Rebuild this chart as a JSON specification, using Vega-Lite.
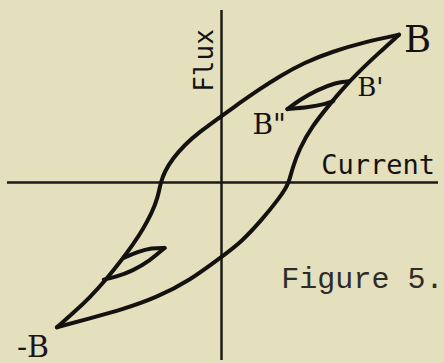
{
  "$schema": "https://vega.github.io/schema/vega-lite/v6.json",
  "width": 444,
  "height": 363,
  "autosize": {"type": "fit", "contains": "padding"},
  "padding": 0,
  "background": "#e4dfbd",
  "config": {"view": {"stroke": null}},
  "datasets": {
    "curves": [
      {"s": "top", "i": 0, "x": 178, "y": 149},
      {"s": "top", "i": 1, "x": 145, "y": 142},
      {"s": "top", "i": 2, "x": 111, "y": 132},
      {"s": "top", "i": 3, "x": 83, "y": 121},
      {"s": "top", "i": 4, "x": 58, "y": 107},
      {"s": "top", "i": 5, "x": 38, "y": 94},
      {"s": "top", "i": 6, "x": 18, "y": 80},
      {"s": "top", "i": 7, "x": 0, "y": 67},
      {"s": "top", "i": 8, "x": -22, "y": 51},
      {"s": "top", "i": 9, "x": -37, "y": 38},
      {"s": "top", "i": 10, "x": -49, "y": 24},
      {"s": "top", "i": 11, "x": -57, "y": 11},
      {"s": "top", "i": 12, "x": -61, "y": 0},
      {"s": "top", "i": 13, "x": -64, "y": -16},
      {"s": "top", "i": 14, "x": -70, "y": -31},
      {"s": "top", "i": 15, "x": -78, "y": -46},
      {"s": "top", "i": 16, "x": -89, "y": -63},
      {"s": "top", "i": 17, "x": -100, "y": -78},
      {"s": "top", "i": 18, "x": -115, "y": -97},
      {"s": "top", "i": 19, "x": -132, "y": -116},
      {"s": "top", "i": 20, "x": -149, "y": -132},
      {"s": "top", "i": 21, "x": -165, "y": -146},
      {"s": "bottom", "i": 0, "x": -165, "y": -146},
      {"s": "bottom", "i": 1, "x": -132, "y": -137},
      {"s": "bottom", "i": 2, "x": -99, "y": -128},
      {"s": "bottom", "i": 3, "x": -65, "y": -116},
      {"s": "bottom", "i": 4, "x": -32, "y": -99},
      {"s": "bottom", "i": 5, "x": 0, "y": -75},
      {"s": "bottom", "i": 6, "x": 20, "y": -60},
      {"s": "bottom", "i": 7, "x": 41, "y": -37},
      {"s": "bottom", "i": 8, "x": 57, "y": -17},
      {"s": "bottom", "i": 9, "x": 65, "y": -5},
      {"s": "bottom", "i": 10, "x": 68, "y": 2},
      {"s": "bottom", "i": 11, "x": 71, "y": 14},
      {"s": "bottom", "i": 12, "x": 78, "y": 34},
      {"s": "bottom", "i": 13, "x": 91, "y": 57},
      {"s": "bottom", "i": 14, "x": 107, "y": 77},
      {"s": "bottom", "i": 15, "x": 121, "y": 94},
      {"s": "bottom", "i": 16, "x": 138, "y": 112},
      {"s": "bottom", "i": 17, "x": 157, "y": 130},
      {"s": "bottom", "i": 18, "x": 178, "y": 149},
      {"s": "m1a", "i": 0, "x": 128, "y": 102},
      {"s": "m1a", "i": 1, "x": 115, "y": 101},
      {"s": "m1a", "i": 2, "x": 95, "y": 93},
      {"s": "m1a", "i": 3, "x": 78, "y": 83},
      {"s": "m1a", "i": 4, "x": 66, "y": 74},
      {"s": "m1b", "i": 0, "x": 66, "y": 74},
      {"s": "m1b", "i": 1, "x": 88, "y": 76},
      {"s": "m1b", "i": 2, "x": 104, "y": 79},
      {"s": "m1b", "i": 3, "x": 112, "y": 82},
      {"s": "m2a", "i": 0, "x": -98, "y": -76},
      {"s": "m2a", "i": 1, "x": -84, "y": -70},
      {"s": "m2a", "i": 2, "x": -70, "y": -66},
      {"s": "m2a", "i": 3, "x": -57, "y": -66},
      {"s": "m2b", "i": 0, "x": -57, "y": -66},
      {"s": "m2b", "i": 1, "x": -72, "y": -79},
      {"s": "m2b", "i": 2, "x": -89, "y": -89},
      {"s": "m2b", "i": 3, "x": -105, "y": -95},
      {"s": "m2b", "i": 4, "x": -118, "y": -98}
    ],
    "axes": [
      {"x": -215, "x2": 217, "y": 0, "y2": 0},
      {"x": 0, "x2": 0, "y": 174, "y2": -179}
    ]
  },
  "encoding": {
    "x": {"field": "x", "type": "quantitative", "scale": {"domain": [-222, 222], "nice": false, "zero": false}, "axis": null},
    "y": {"field": "y", "type": "quantitative", "scale": {"domain": [-179, 184], "nice": false, "zero": false}, "axis": null}
  },
  "layer": [
    {
      "data": {"name": "axes"},
      "mark": {"type": "rule", "color": "#1c1a16", "strokeWidth": 2.5},
      "encoding": {"x2": {"field": "x2"}, "y2": {"field": "y2"}}
    },
    {
      "data": {"name": "curves"},
      "mark": {"type": "line", "color": "#141210", "strokeWidth": 4, "interpolate": "basis", "strokeCap": "round", "strokeJoin": "round"},
      "encoding": {"detail": {"field": "s"}, "order": {"field": "i", "type": "quantitative"}}
    },
    {
      "data": {"values": [{"x": 183, "y": 132, "t": "B"}]},
      "mark": {"type": "text", "font": "DejaVu Serif", "fontSize": 37, "align": "left", "baseline": "alphabetic", "color": "#141210"},
      "encoding": {"text": {"field": "t"}}
    },
    {
      "data": {"values": [{"x": 136, "y": 87, "t": "B'"}]},
      "mark": {"type": "text", "font": "DejaVu Serif", "fontSize": 26, "align": "left", "baseline": "alphabetic", "color": "#141210"},
      "encoding": {"text": {"field": "t"}}
    },
    {
      "data": {"values": [{"x": 31, "y": 49, "t": "B\""}]},
      "mark": {"type": "text", "font": "DejaVu Serif", "fontSize": 28, "align": "left", "baseline": "alphabetic", "color": "#141210"},
      "encoding": {"text": {"field": "t"}}
    },
    {
      "data": {"values": [{"x": -205, "y": -176, "t": "-B"}]},
      "mark": {"type": "text", "font": "DejaVu Serif", "fontSize": 30, "align": "left", "baseline": "alphabetic", "color": "#1e1418"},
      "encoding": {"text": {"field": "t"}}
    },
    {
      "data": {"values": [{"x": 100, "y": 9, "t": "Current"}]},
      "mark": {"type": "text", "font": "DejaVu Sans Mono", "fontSize": 27, "align": "left", "baseline": "alphabetic", "color": "#141210"},
      "encoding": {"text": {"field": "t"}}
    },
    {
      "data": {"values": [{"x": -9, "y": 123, "t": "Flux"}]},
      "mark": {"type": "text", "font": "DejaVu Sans Mono", "fontSize": 26, "align": "center", "baseline": "alphabetic", "angle": 270, "color": "#141210"},
      "encoding": {"text": {"field": "t"}}
    },
    {
      "data": {"values": [{"x": 60, "y": -106, "t": "Figure 5."}]},
      "mark": {"type": "text", "font": "Liberation Mono", "fontSize": 30, "align": "left", "baseline": "alphabetic", "color": "#2e2c28"},
      "encoding": {"text": {"field": "t"}}
    }
  ]
}
